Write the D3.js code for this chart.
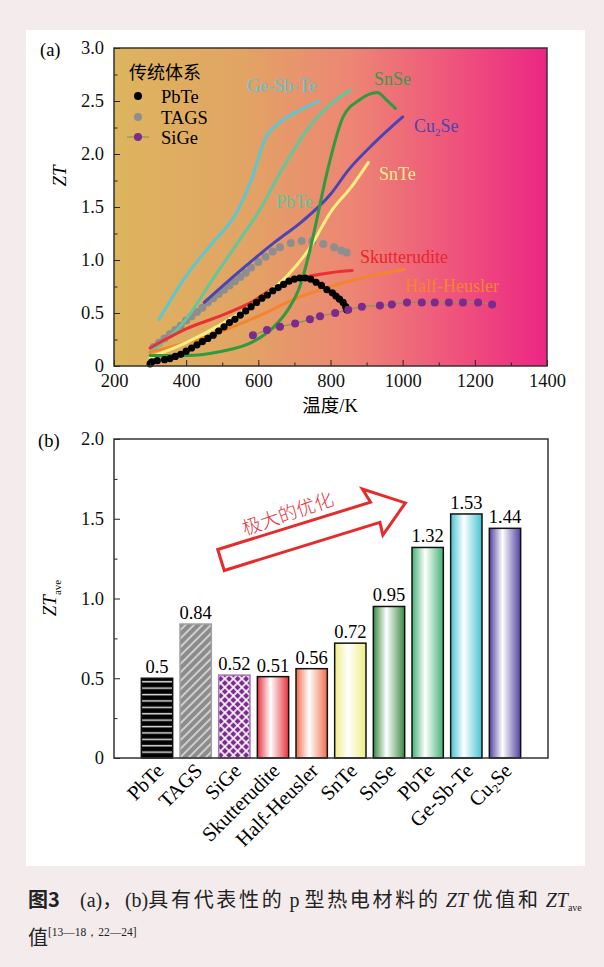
<!DOCTYPE html>
<html>
<head>
<meta charset="utf-8">
<script src="https://cdn.jsdelivr.net/npm/d3@7"></script>
<style>
  body { margin: 0; background: #f4ebed; }
  svg { display: block; }
  text { font-family: "Liberation Serif", "Times New Roman", "DejaVu Serif", serif; }
  .cjk { font-family: "Noto Sans CJK SC", sans-serif; }
</style>
</head>
<body>
<svg id="fig" width="604" height="967"></svg>
<script>
// ---- panel (a): ZT vs temperature ----
const gstCurve = [[325, 0.44], [400, 0.85], [470, 1.15], [540, 1.45], [580, 1.75], [620, 2.15], [660, 2.3], [720, 2.42], [768, 2.5]];
const pbteCurve = [[300, 0.13], [390, 0.40], [480, 0.85], [550, 1.2], [600, 1.45], [660, 1.82], [740, 2.25], [800, 2.47], [855, 2.6]];
const snseCurve = [[300, 0.1], [400, 0.1], [500, 0.14], [580, 0.22], [640, 0.36], [680, 0.52], [715, 0.75], [740, 1.05], [760, 1.35], [790, 1.82], [835, 2.35], [880, 2.51], [930, 2.58], [955, 2.51], [980, 2.43]];
const cu2seCurve = [[450, 0.6], [550, 0.9], [650, 1.18], [720, 1.36], [800, 1.62], [850, 1.85], [920, 2.1], [1000, 2.35]];
const snteCurve = [[300, 0.08], [400, 0.22], [500, 0.4], [600, 0.62], [680, 0.85], [740, 1.1], [800, 1.45], [860, 1.7], [905, 1.92]];
const skuttCurve = [[300, 0.17], [400, 0.35], [500, 0.48], [580, 0.6], [650, 0.75], [720, 0.83], [800, 0.88], [860, 0.9]];
const hhCurve = [[300, 0.13], [400, 0.22], [500, 0.33], [600, 0.47], [700, 0.63], [800, 0.75], [900, 0.84], [1005, 0.91]];

const pbteDots = [[300, 0.02], [305, 0.04], [320, 0.05], [340, 0.06], [355, 0.07], [370, 0.09], [385, 0.11], [400, 0.14],
  [415, 0.17], [430, 0.2], [445, 0.23], [460, 0.26], [475, 0.29], [490, 0.33], [505, 0.37], [520, 0.41], [535, 0.44],
  [550, 0.48], [565, 0.52], [580, 0.56], [595, 0.6], [610, 0.64], [625, 0.67], [640, 0.71], [655, 0.74], [670, 0.77],
  [685, 0.8], [700, 0.82], [715, 0.83], [730, 0.83], [745, 0.82], [760, 0.79], [775, 0.76], [790, 0.72], [805, 0.69],
  [815, 0.66], [825, 0.63], [835, 0.6], [842, 0.56], [845, 0.53]];
const tagsDots = [[310, 0.18], [325, 0.22], [340, 0.26], [355, 0.3], [370, 0.34], [385, 0.38], [400, 0.43], [415, 0.47],
  [430, 0.51], [445, 0.55], [460, 0.6], [475, 0.64], [490, 0.68], [505, 0.72], [520, 0.76], [535, 0.8], [550, 0.84],
  [565, 0.88], [580, 0.93], [600, 0.98], [620, 1.03], [640, 1.08], [660, 1.12], [690, 1.16], [720, 1.18], [750, 1.18],
  [780, 1.15], [810, 1.12], [830, 1.09], [845, 1.07]];
const sigeDots = [[585, 0.29], [624, 0.34], [660, 0.37], [702, 0.4], [743, 0.44], [771, 0.47], [813, 0.5], [849, 0.53],
  [887, 0.56], [937, 0.57], [970, 0.58], [1012, 0.6], [1053, 0.6], [1089, 0.6], [1128, 0.6], [1167, 0.6], [1209, 0.6], [1248, 0.58]];

const tempTicks = [200, 400, 600, 800, 1000, 1200, 1400];
const ztTicks = [0, 0.5, 1.0, 1.5, 2.0, 2.5, 3.0];

// ---- panel (b): average ZT ----
const materials = ["PbTe", "TAGS", "SiGe", "Skutterudite", "Half-Heusler", "SnTe", "SnSe", "PbTe", "Ge-Sb-Te", "Cu2Se"];
const ztAve = [0.5, 0.84, 0.52, 0.51, 0.56, 0.72, 0.95, 1.32, 1.53, 1.44];
const ztAveLabels = ["0.5", "0.84", "0.52", "0.51", "0.56", "0.72", "0.95", "1.32", "1.53", "1.44"];
const aveTicks = [0, 0.5, 1.0, 1.5, 2.0];

const svg = d3.select("#fig");
const defs = svg.append("defs");

svg.append("rect").attr("x", 26).attr("y", 30).attr("width", 559).attr("height", 836).attr("fill", "#fff");

// ================= panel (a) =================
const x = d3.scaleLinear().domain([200, 1400]).range([114, 547]);
const y = d3.scaleLinear().domain([0, 3]).range([366, 48]);

const bg = defs.append("linearGradient").attr("id", "bgGrad");
[["0%", "#dcb55e"], ["30%", "#e2a464"], ["55%", "#ed8574"], ["78%", "#ef557c"], ["100%", "#ec2684"]].forEach(s =>
  bg.append("stop").attr("offset", s[0]).attr("stop-color", s[1]));

svg.append("rect").attr("x", x(200)).attr("y", y(3)).attr("width", x(1400) - x(200)).attr("height", y(0) - y(3))
  .attr("fill", "url(#bgGrad)");

const line = d3.line().x(d => x(d[0])).y(d => y(d[1])).curve(d3.curveMonotoneX);
const curves = [
  [gstCurve, "#5ac7d2"], [pbteCurve, "#62c79c"], [cu2seCurve, "#4d44b4"], [skuttCurve, "#ec2f34"],
  [hhCurve, "#f5842e"], [snteCurve, "#f7ef7e"], [snseCurve, "#2f9a3e"]
];
const plotA = svg.append("g");
plotA.append("path").datum(sigeDots).attr("d", line)
  .attr("fill", "none").attr("stroke", "#7f9a4e").attr("stroke-width", 1.2);
plotA.selectAll(".tags").data(tagsDots).join("circle").attr("class", "tags")
  .attr("cx", d => x(d[0])).attr("cy", d => y(d[1])).attr("r", 4).attr("fill", "#8e8e8e");
curves.forEach(c => {
  plotA.append("path").datum(c[0]).attr("d", line).attr("fill", "none")
    .attr("stroke", c[1]).attr("stroke-width", 3).attr("stroke-linecap", "round");
});
plotA.selectAll(".pbte").data(pbteDots).join("circle").attr("class", "pbte")
  .attr("cx", d => x(d[0])).attr("cy", d => y(d[1])).attr("r", 3.6).attr("fill", "#000");
plotA.selectAll(".sige").data(sigeDots).join("circle").attr("class", "sige")
  .attr("cx", d => x(d[0])).attr("cy", d => y(d[1])).attr("r", 4).attr("fill", "#7b2a8e");

const fmtTick = d => d === 0 ? "0" : d3.format(".1f")(d);
function styleAxis(g) {
  g.attr("font-family", null).attr("font-size", null);
  g.select(".domain").remove();
  g.selectAll("line").attr("stroke", "#222");
  g.selectAll("text").attr("fill", "#111").style("font-size", "18.5px");
}

// axes (ticks inward)
svg.append("g").attr("transform", `translate(${x(200)},0)`)
  .call(d3.axisLeft(y).tickValues(ztTicks).tickSize(-6).tickPadding(10).tickFormat(fmtTick)).call(styleAxis);
svg.append("g").attr("transform", `translate(${x(200)},0)`)
  .call(d3.axisLeft(y).tickValues(d3.range(0.25, 3, 0.5)).tickSize(-3.5).tickFormat("")).call(styleAxis);
svg.append("g").attr("transform", `translate(0,${y(0)})`)
  .call(d3.axisBottom(x).tickValues(tempTicks).tickSize(-6).tickPadding(8).tickFormat(d3.format("d"))).call(styleAxis);
svg.append("g").attr("transform", `translate(0,${y(0)})`)
  .call(d3.axisBottom(x).tickValues(d3.range(300, 1400, 200)).tickSize(-3.5).tickFormat("")).call(styleAxis);
svg.append("rect").attr("x", x(200)).attr("y", y(3)).attr("width", x(1400) - x(200)).attr("height", y(0) - y(3))
  .attr("fill", "none").attr("stroke", "#333").attr("stroke-width", 1.5);

svg.append("text").attr("x", 40).attr("y", 56).style("font-size", "18.5px").text("(a)");
svg.append("text").attr("transform", "translate(66,176) rotate(-90)").attr("text-anchor", "middle")
  .style("font-size", "19px").style("font-style", "italic").text("ZT");
svg.append("text").attr("x", 330).attr("y", 412).attr("text-anchor", "middle").style("font-size", "18.5px")
  .html('<tspan class="cjk">温度</tspan>/K');

// curve labels
const curveLabels = [
  ["Ge-Sb-Te", 247, 92, "#5ec5cc"], ["SnSe", 374, 85, "#3a9a4a"], ["SnTe", 379, 180, "#f4ec8c"],
  ["PbTe", 276, 208, "#5fc69a"], ["Skutterudite", 360, 263, "#e8262e"], ["Half-Heusler", 405, 292, "#f5842e"]
];
svg.selectAll(".clab").data(curveLabels).join("text").attr("class", "clab")
  .attr("x", d => d[1]).attr("y", d => d[2]).attr("fill", d => d[3]).style("font-size", "18px").text(d => d[0]);
svg.append("text").attr("x", 414).attr("y", 132).attr("fill", "#4a46b0").style("font-size", "18px")
  .html('Cu<tspan dy="4" font-size="11">2</tspan><tspan dy="-4">Se</tspan>');

// legend
svg.append("text").attr("x", 129).attr("y", 79).attr("class", "cjk").style("font-size", "18px").text("传统体系");
const legend = [["PbTe", "#000", 96], ["TAGS", "#8e8e8e", 117], ["SiGe", "#7b2a8e", 137]];
svg.append("line").attr("x1", 127).attr("x2", 149).attr("y1", 137).attr("y2", 137).attr("stroke", "#7f9a4e").attr("stroke-width", 1.2);
svg.selectAll(".lgd").data(legend).join("circle").attr("class", "lgd")
  .attr("cx", 138).attr("cy", d => d[2]).attr("r", 4).attr("fill", d => d[1]);
svg.selectAll(".lgt").data(legend).join("text").attr("class", "lgt")
  .attr("x", 161).attr("y", d => d[2] + 7).style("font-size", "18.5px").text(d => d[0]);

// ================= panel (b) =================
const xb = d3.scaleBand().domain(d3.range(materials.length)).range([134, 528]).padding(0.19);
const yb = d3.scaleLinear().domain([0, 2]).range([758, 439]);

// patterns
const pStripe = defs.append("pattern").attr("id", "pStripe").attr("patternUnits", "userSpaceOnUse")
  .attr("width", 8).attr("height", 6.4);
pStripe.append("rect").attr("width", 8).attr("height", 6.4).attr("fill", "#000");
pStripe.append("rect").attr("y", 2.6).attr("width", 8).attr("height", 1.5).attr("fill", "#ddd");

const pHatch = defs.append("pattern").attr("id", "pHatch").attr("patternUnits", "userSpaceOnUse")
  .attr("width", 6).attr("height", 6).attr("patternTransform", "rotate(45)");
pHatch.append("rect").attr("width", 6).attr("height", 6).attr("fill", "#8c8c8c");
pHatch.append("rect").attr("x", 2.4).attr("width", 1.3).attr("height", 6).attr("fill", "#f2f2f2");

const pCross = defs.append("pattern").attr("id", "pCross").attr("patternUnits", "userSpaceOnUse")
  .attr("width", 6).attr("height", 6).attr("patternTransform", "rotate(45)");
pCross.append("rect").attr("width", 6).attr("height", 6).attr("fill", "#7b2a8e");
pCross.append("rect").attr("x", 2.2).attr("width", 1.6).attr("height", 6).attr("fill", "#fff");
pCross.append("rect").attr("y", 2.2).attr("width", 6).attr("height", 1.6).attr("fill", "#fff");

const gradColors = [null, null, null, "#e8323e", "#f06e4c", "#eeee84", "#3a8a42", "#43b174", "#44c3d2", "#5041a2"];
gradColors.forEach((c, i) => {
  if (!c) return;
  const g = defs.append("linearGradient").attr("id", "bar" + i);
  g.append("stop").attr("offset", "0%").attr("stop-color", c);
  g.append("stop").attr("offset", "42%").attr("stop-color", "#fff");
  g.append("stop").attr("offset", "100%").attr("stop-color", c);
});
const barFill = i => i === 0 ? "url(#pStripe)" : i === 1 ? "url(#pHatch)" : i === 2 ? "url(#pCross)" : `url(#bar${i})`;
const barStroke = i => i === 1 ? "#a0a0a0" : i === 2 ? "#a77bb5" : "#111";

svg.selectAll(".bar").data(ztAve).join("rect").attr("class", "bar")
  .attr("x", (d, i) => xb(i)).attr("y", d => yb(d)).attr("width", xb.bandwidth()).attr("height", d => yb(0) - yb(d))
  .attr("fill", (d, i) => barFill(i)).attr("stroke", (d, i) => barStroke(i)).attr("stroke-width", 1.5);

svg.selectAll(".vlab").data(ztAve).join("text").attr("class", "vlab")
  .attr("x", (d, i) => xb(i) + xb.bandwidth() / 2).attr("y", d => yb(d) - 5).attr("text-anchor", "middle")
  .style("font-size", "18.5px").text((d, i) => ztAveLabels[i]);

svg.append("g").attr("transform", "translate(114,0)")
  .call(d3.axisLeft(yb).tickValues(aveTicks).tickSize(-6).tickPadding(10).tickFormat(fmtTick)).call(styleAxis);
svg.append("g").attr("transform", "translate(114,0)")
  .call(d3.axisLeft(yb).tickValues(d3.range(0.25, 2, 0.5)).tickSize(-3.5).tickFormat("")).call(styleAxis);
svg.append("rect").attr("x", 114).attr("y", 439).attr("width", 548 - 114).attr("height", 758 - 439)
  .attr("fill", "none").attr("stroke", "#333").attr("stroke-width", 1.5);

// category labels
svg.selectAll(".cat").data(materials).join("text").attr("class", "cat")
  .attr("transform", (d, i) => `translate(${xb(i) + xb.bandwidth() / 2 + 8},${772}) rotate(-45)`)
  .attr("text-anchor", "end").style("font-size", "20.5px")
  .html(d => d === "Cu2Se" ? 'Cu<tspan dy="4" font-size="12">2</tspan><tspan dy="-4">Se</tspan>' : d);

svg.append("text").attr("x", 38).attr("y", 447).style("font-size", "18.5px").text("(b)");
svg.append("text").attr("transform", "translate(56,598) rotate(-90)").attr("text-anchor", "middle")
  .style("font-size", "19px")
  .html('<tspan font-style="italic">ZT</tspan><tspan dy="5" font-size="11">ave</tspan>');

// arrow annotation
const arrow = svg.append("g").attr("transform", "translate(221,560) rotate(-17.2)");
arrow.append("path")
  .attr("d", "M0,-11 L160,-11 L156,-26 L193,0 L162,24 L163,11 L0,11 Z")
  .attr("fill", "#fff").attr("stroke", "#e52c2c").attr("stroke-width", 3).attr("stroke-linejoin", "miter");
svg.append("text").attr("class", "cjk").attr("transform", "translate(290,520) rotate(-19)")
  .attr("text-anchor", "middle").attr("fill", "#e8303a").style("font-size", "19px").style("font-weight", "300")
  .text("极大的优化");

// caption
const cjkGap = "2.7px";
const cap = svg.append("text").attr("x", 28).attr("y", 907).style("font-size", "20px").attr("fill", "#222");
cap.append("tspan").attr("class", "cjk").attr("font-weight", "bold").text("图3");
cap.append("tspan").attr("x", 80).text("(a)");
const capParts = [["，", 1], ["(b)", 0], ["具有代表性的", 1], [" p ", 0], ["型热电材料的", 1], [" ZT ", 2], ["优值和", 1], [" ZT", 2]];
capParts.forEach(p => {
  const t = cap.append("tspan").text(p[0]);
  if (p[1] === 1) t.attr("class", "cjk").style("letter-spacing", cjkGap);
  if (p[1] === 2) t.attr("font-style", "italic");
});
cap.append("tspan").attr("font-size", "10px").attr("dy", 4).text("ave");
const cap2 = svg.append("text").attr("x", 28).attr("y", 945).style("font-size", "20px").attr("fill", "#222");
cap2.append("tspan").attr("class", "cjk").text("值");
cap2.append("tspan").attr("font-size", "11.5px").attr("dy", -9).text("[13—18，22—24]");
</script>
</body>
</html>
